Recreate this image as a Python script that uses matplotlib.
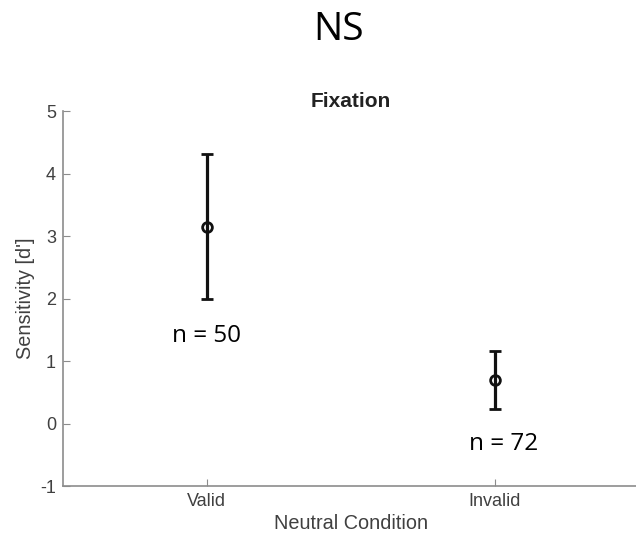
import matplotlib
matplotlib.use("Agg")
import matplotlib.pyplot as plt

conditions = ["Valid", "Invalid"]
means = [3.15, 0.70]
errors = [1.16, 0.46]
n_labels = ["n = 50", "n = 72"]
n_label_y = [1.40, -0.32]
n_label_dx = [0.0, 0.03]

plt.rcParams['font.family'] = ['Liberation Sans', 'DejaVu Sans']
gray = '#404040'

fig = plt.figure(figsize=(6.36, 5.42), dpi=100)
ax = fig.add_axes([0.099, 0.103, 0.905, 0.692])

x = list(range(1, len(conditions) + 1))
ax.errorbar(x, means, yerr=errors, fmt='o', color='#111111', mfc='none',
            ms=7, mew=2, elinewidth=2.3, capsize=4, capthick=2.3)

for xi, lab, ly, dx in zip(x, n_labels, n_label_y, n_label_dx):
    ax.text(xi + dx, ly, lab, ha='center', va='center', fontsize=17.5,
            family=['Open Sans', 'DejaVu Sans'])

ax.set_xlim(0.5, 2.5)
ax.set_ylim(-1, 5)
ax.set_xticks(x)
ax.set_xticklabels(conditions)
ax.set_yticks(range(-1, 6))
ax.set_yticklabels([str(v) for v in range(-1, 6)])

for side in ['top', 'right']:
    ax.spines[side].set_visible(False)
for side in ['left', 'bottom']:
    ax.spines[side].set_color('#8c8c8c')
    ax.spines[side].set_linewidth(1.2)
ax.tick_params(direction='in', length=5, color='#8c8c8c', labelcolor=gray,
               labelsize=13, pad=5)

ax.set_xlabel('Neutral Condition', fontsize=14.3, color=gray, labelpad=3)
ax.set_ylabel("Sensitivity [d']", fontsize=14.3, color=gray, labelpad=4)
ax.set_title('Fixation', fontsize=15, fontweight='bold', color='#222222', pad=3)

fig.text(0.533, 0.945, 'NS', ha='center', va='center', fontsize=28,
         family=['Open Sans', 'DejaVu Sans'])

fig.savefig('out.png', dpi=100)
